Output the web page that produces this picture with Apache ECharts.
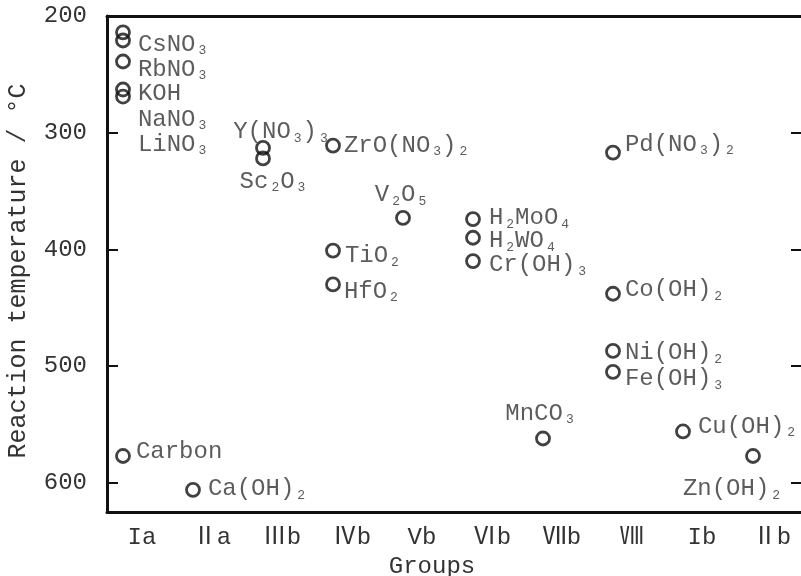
<!DOCTYPE html>
<html>
<head>
<meta charset="utf-8">
<title>Reaction temperature by group</title>
<script src="https://cdn.jsdelivr.net/npm/echarts@6/dist/echarts.min.js"></script>
<style>
    html, body { margin: 0; padding: 0; background: #fff; }
    #chart { width: 801px; height: 576px; }
</style>
</head>
<body>
<div id="chart"></div>
<script>
// 族 (x 轴)
var groups = ['Ia', 'Ⅱa', 'Ⅲb', 'Ⅳb', 'Vb', 'Ⅵb', 'Ⅶb', 'Ⅷ', 'Ib', 'Ⅱb'];
// y 轴刻度
var yTicks = [200, 300, 400, 500, 600];
// 化合物, 所属族, 反应温度
var compounds = ['CsNO3', 'RbNO3', 'KOH', 'NaNO3', 'LiNO3', 'Carbon', 'Ca(OH)2',
    'Y(NO3)3', 'Sc2O3', 'ZrO(NO3)2', 'TiO2', 'HfO2', 'V2O5',
    'H2MoO4', 'H2WO4', 'Cr(OH)3', 'MnCO3',
    'Pd(NO3)2', 'Co(OH)2', 'Ni(OH)2', 'Fe(OH)3', 'Cu(OH)2', 'Zn(OH)2'];
var compoundGroups = ['Ia', 'Ia', 'Ia', 'Ia', 'Ia', 'Ia', 'Ⅱa',
    'Ⅲb', 'Ⅲb', 'Ⅳb', 'Ⅳb', 'Ⅳb', 'Vb',
    'Ⅵb', 'Ⅵb', 'Ⅵb', 'Ⅶb',
    'Ⅷ', 'Ⅷ', 'Ⅷ', 'Ⅷ', 'Ib', 'Ⅱb'];
var reactionTemps = [214, 221, 239, 263, 269, 577, 606,
    313, 322, 311, 401, 430, 373,
    374, 390, 410, 562,
    317, 438, 487, 505, 556, 577];

(function () {

    var FONT = "'Liberation Mono', 'DejaVu Sans Mono', 'Noto Sans CJK JP', monospace";
    var INK = '#333';

    // 标签摆放 (只管位置)
    var labelPlace = {
        'CsNO3': { pos: 'right', dist: 7, dx: 0, dy: 12 },
        'RbNO3': { pos: 'right', dist: 7, dx: 0, dy: 29 },
        'KOH': { pos: 'right', dist: 7, dx: 0, dy: 32 },
        'NaNO3': { pos: 'right', dist: 7, dx: 0, dy: 30 },
        'LiNO3': { pos: 'right', dist: 7, dx: 0, dy: 48 },
        'Carbon': { pos: 'right', dist: 5, dx: 0, dy: -4 },
        'Ca(OH)2': { pos: 'right', dist: 7, dx: 0, dy: -1 },
        'Y(NO3)3': { pos: 'inside', dx: 18, dy: -16 },
        'Sc2O3': { pos: 'inside', dx: 10, dy: 23 },
        'ZrO(NO3)2': { pos: 'right', dist: 3, dx: 0, dy: 0 },
        'TiO2': { pos: 'right', dist: 4, dx: 0, dy: 5 },
        'HfO2': { pos: 'right', dist: 3, dx: 0, dy: 7 },
        'V2O5': { pos: 'inside', dx: -2, dy: -23 },
        'H2MoO4': { pos: 'right', dist: 8, dx: 0, dy: -1 },
        'H2WO4': { pos: 'right', dist: 8, dx: 0, dy: 3 },
        'Cr(OH)3': { pos: 'right', dist: 8, dx: 0, dy: 4 },
        'MnCO3': { pos: 'inside', dx: -3, dy: -25 },
        'Pd(NO3)2': { pos: 'right', dist: 4, dx: 0, dy: -8 },
        'Co(OH)2': { pos: 'right', dist: 4, dx: 0, dy: -4 },
        'Ni(OH)2': { pos: 'right', dist: 4, dx: 0, dy: 2 },
        'Fe(OH)3': { pos: 'right', dist: 4, dx: 0, dy: 7 },
        'Cu(OH)2': { pos: 'right', dist: 7, dx: 0, dy: -5 },
        'Zn(OH)2': { pos: 'inside', dx: -21, dy: 33 }
    };

    // 化学式数字 -> 下标
    function formula(s) {
        return s.replace(/(\d)/g, '{s|$1}');
    }

    var points = compounds.map(function (c, i) {
        var p = labelPlace[c];
        var label = { position: p.pos, offset: [p.dx, p.dy] };
        if (p.pos === 'right') label.distance = p.dist;
        return { name: c, value: [compoundGroups[i], reactionTemps[i]], label: label };
    });

    var lineStyle = { color: '#111', width: 3 };
    var tickStyle = { color: '#111', width: 2 };

    var option = {
        animation: false,
        backgroundColor: '#fff',
        grid: { left: 107, top: 16, width: 700, bottom: 64, outerBoundsMode: 'none', containLabel: false },
        xAxis: [{
            type: 'category',
            data: groups,
            position: 'bottom',
            axisLine: { lineStyle: lineStyle },
            axisTick: { inside: true, length: 10, lineStyle: tickStyle },
            axisLabel: { interval: 0, margin: 14, fontSize: 24, fontFamily: FONT, color: INK },
            splitLine: { show: false },
            name: 'Groups',
            nameLocation: 'middle',
            nameGap: 37,
            nameTextStyle: { fontSize: 24, fontFamily: FONT, color: INK, padding: [0, 50, 0, 0] }
        }, {
            type: 'category',
            data: groups,
            position: 'top',
            axisLine: { lineStyle: lineStyle },
            axisTick: { inside: true, length: 9, lineStyle: tickStyle },
            axisLabel: { show: false },
            splitLine: { show: false }
        }],
        yAxis: [{
            type: 'value',
            inverse: true,
            min: yTicks[0],
            max: 625,
            interval: yTicks[1] - yTicks[0],
            position: 'left',
            axisLine: { show: true, lineStyle: lineStyle },
            axisTick: { show: true, inside: true, length: 11, lineStyle: tickStyle },
            axisLabel: { margin: 20, fontSize: 24, fontFamily: FONT, color: INK, showMaxLabel: false },
            splitLine: { show: false },
            name: 'Reaction temperature / °C',
            nameLocation: 'middle',
            nameRotate: 90,
            nameGap: 76,
            nameTextStyle: { fontSize: 25, fontFamily: FONT, color: INK, padding: [0, 14, 0, 0] }
        }, {
            type: 'value',
            inverse: true,
            min: yTicks[0],
            max: 625,
            interval: yTicks[1] - yTicks[0],
            position: 'right',
            axisLine: { show: true, lineStyle: lineStyle },
            axisTick: { show: true, inside: true, length: 16, lineStyle: tickStyle },
            axisLabel: { show: false },
            splitLine: { show: false }
        }],
        series: [{
            type: 'scatter',
            xAxisIndex: 0,
            yAxisIndex: 0,
            symbol: 'circle',
            symbolSize: 13,
            symbolOffset: [-19, 0],
            itemStyle: { color: 'rgba(0,0,0,0)', borderColor: '#111', borderWidth: 2.8 },
            label: {
                show: true,
                fontSize: 24,
                lineHeight: 26,
                fontFamily: FONT,
                color: INK,
                formatter: function (p) { return formula(p.name); },
                rich: {
                    s: { fontSize: 13, lineHeight: 13, verticalAlign: 'bottom', padding: [0, 1, 0, 3], fontFamily: FONT, color: INK }
                }
            },
            emphasis: { disabled: true },
            data: points
        }]
    };

    echarts.init(document.getElementById('chart')).setOption(option);
})();
</script>
</body>
</html>
